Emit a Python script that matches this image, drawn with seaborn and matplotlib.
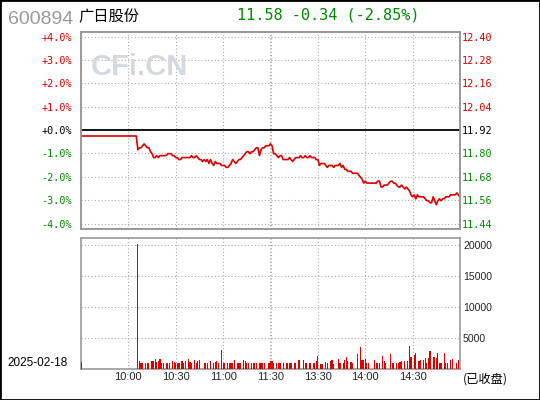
import numpy as np
import pandas as pd
import seaborn as sns
import matplotlib.pyplot as plt
from matplotlib.patches import Rectangle

# 分时数据 (9:30-11:30, 13:00-15:00, 每分钟一个点)
base_price = 11.92
price = [
    11.89, 11.89, 11.89, 11.89, 11.89, 11.89, 11.89, 11.89, 11.89, 11.89,
    11.89, 11.89, 11.89, 11.89, 11.89, 11.89, 11.89, 11.89, 11.89, 11.89,
    11.89, 11.89, 11.89, 11.89, 11.89, 11.89, 11.89, 11.89, 11.89, 11.89,
    11.89, 11.89, 11.89, 11.89, 11.89, 11.89, 11.82, 11.83, 11.83, 11.84,
    11.85, 11.84, 11.83, 11.83, 11.81, 11.80, 11.78, 11.78, 11.79, 11.78,
    11.79, 11.79, 11.79, 11.79, 11.79, 11.80, 11.80, 11.80, 11.79, 11.79,
    11.78, 11.78, 11.77, 11.77, 11.78, 11.78, 11.78, 11.78, 11.78, 11.78,
    11.79, 11.78, 11.78, 11.79, 11.78, 11.77, 11.77, 11.76, 11.77, 11.76,
    11.77, 11.75, 11.77, 11.75, 11.74, 11.76, 11.75, 11.75, 11.75, 11.74,
    11.74, 11.74, 11.73, 11.73, 11.74, 11.75, 11.77, 11.76, 11.75, 11.76,
    11.77, 11.77, 11.78, 11.79, 11.80, 11.81, 11.81, 11.80, 11.81, 11.81,
    11.82, 11.83, 11.83, 11.79, 11.82, 11.83, 11.83, 11.84, 11.84, 11.84,
    11.85, 11.84, 11.80, 11.80, 11.79, 11.78, 11.79, 11.79, 11.77, 11.77,
    11.77, 11.77, 11.78, 11.77, 11.76, 11.77, 11.78, 11.78, 11.78, 11.79,
    11.78, 11.78, 11.79, 11.78, 11.78, 11.79, 11.78, 11.78, 11.78, 11.77,
    11.77, 11.74, 11.75, 11.75, 11.75, 11.74, 11.73, 11.74, 11.74, 11.74,
    11.73, 11.74, 11.74, 11.74, 11.75, 11.73, 11.74, 11.72, 11.72, 11.71,
    11.71, 11.71, 11.70, 11.70, 11.70, 11.70, 11.69, 11.68, 11.67, 11.65,
    11.66, 11.65, 11.65, 11.65, 11.65, 11.65, 11.65, 11.65, 11.66, 11.66,
    11.63, 11.63, 11.64, 11.64, 11.64, 11.65, 11.66, 11.66, 11.65, 11.65,
    11.64, 11.63, 11.63, 11.64, 11.63, 11.62, 11.63, 11.62, 11.61, 11.59,
    11.58, 11.59, 11.57, 11.59, 11.58, 11.58, 11.58, 11.58, 11.57, 11.56,
    11.56, 11.55, 11.55, 11.58, 11.56, 11.54, 11.56, 11.57, 11.56, 11.57,
    11.57, 11.58, 11.58, 11.58, 11.59, 11.59, 11.59, 11.59, 11.60, 11.59,
    11.58,
]
volume = [
    1100, 0, 0, 0, 0, 0, 0, 0, 0, 0,
    0, 0, 0, 0, 0, 0, 0, 0, 0, 0,
    0, 0, 0, 0, 0, 0, 0, 0, 0, 0,
    0, 0, 0, 0, 0, 0, 20200, 1240, 915, 1020,
    0, 915, 1020, 915, 0, 1345, 1240, 1670, 1130, 1240,
    1560, 970, 1020, 0, 1020, 1020, 1020, 0, 1345, 1130,
    1020, 1020, 1020, 0, 1240, 915, 1240, 0, 1670, 1130,
    970, 0, 1400, 1020, 1240, 1400, 0, 0, 1020, 1020,
    915, 0, 1240, 0, 1020, 1130, 1240, 1020, 0, 3010,
    970, 915, 0, 1020, 1020, 1020, 1020, 1400, 0, 1020,
    915, 1020, 0, 1400, 1240, 1020, 915, 0, 1020, 1020,
    915, 1020, 0, 915, 915, 1020, 1020, 0, 0, 915,
    1240, 1240, 915, 0, 915, 915, 1020, 0, 915, 0,
    915, 915, 915, 915, 0, 915, 1020, 0, 1400, 0,
    0, 1400, 1020, 1020, 0, 915, 0, 915, 915, 1240,
    2040, 0, 860, 860, 0, 1130, 915, 0, 1290, 1400,
    860, 0, 0, 1670, 915, 0, 915, 1500, 1880, 1240,
    0, 1130, 915, 0, 0, 2370, 0, 3500, 1400, 1450,
    1670, 1020, 1020, 0, 0, 0, 1400, 915, 1020, 915,
    0, 2040, 1240, 1020, 0, 0, 2370, 1020, 1020, 0,
    1020, 1020, 1130, 1240, 0, 1240, 0, 1240, 3710, 1940,
    0, 2200, 2640, 0, 1240, 1400, 0, 1400, 1830, 1020,
    1830, 2850, 0, 2000, 2000, 1830, 2640, 1020, 1020, 0,
    2640, 1020, 1020, 0, 1400, 1670, 0, 0, 1020, 1400,
    0,
]

time_ticks = [30, 60, 90, 120, 150, 180, 210]
time_labels = ["10:00", "10:30", "11:00", "11:30", "13:30", "14:00", "14:30"]
pct_steps = [4, 3, 2, 1, 0, -1, -2, -3, -4]
pct_labels = ["+4.0%", "+3.0%", "+2.0%", "+1.0%", "+0.0%", "-1.0%", "-2.0%", "-3.0%", "-4.0%"]
price_labels = ["12.40", "12.28", "12.16", "12.04", "11.92", "11.80", "11.68", "11.56", "11.44"]
vol_ticks = [5000, 10000, 15000, 20000]
vol_labels = ["5000", "10000", "15000", "20000"]

df = pd.DataFrame({"minute": np.arange(len(price)), "price": price, "volume": volume})

sns.set_style("white")
plt.rcParams["font.family"] = ["DejaVu Sans", "Noto Sans CJK SC"]

RED = "#dd0000"
GREEN = "#008800"
GRID = "#aaaaaa"
FRAME = "#999999"

fig = plt.figure(figsize=(5.4, 4), dpi=100)
ax1 = fig.add_axes([81 / 540, 1 - 229 / 400, 379 / 540, 197 / 400])
ax2 = fig.add_axes([81 / 540, 1 - 369 / 400, 379 / 540, 131 / 400])

tick_prices = [base_price * (1 + p / 100) for p in pct_steps]
label_colors = [RED if p > 0 else ("black" if p == 0 else GREEN) for p in pct_steps]
vgrid = [30, 60, 90, 119.4, 120.6, 150, 180, 210]

# 上图：价格走势
for tp, p in zip(tick_prices, pct_steps):
    if p == 0:
        ax1.axhline(tp, color="black", lw=1.3, zorder=2)
    else:
        ax1.axhline(tp, color=GRID, lw=0.8, ls=(0, (1, 2)), zorder=1)
for t in vgrid:
    ax1.axvline(t, color=GRID, lw=0.8, ls=(0, (1, 2)), zorder=1)

ax1.text(91 / 540, 1 - 75 / 400, "CFi.CN", transform=fig.transFigure, fontsize=21,
         fontweight="bold", family="Liberation Sans", color="#d3d9de", zorder=2.5)

sns.lineplot(data=df, x="minute", y="price", ax=ax1, color=RED, lw=1.2, zorder=3)
ax1.set_xlim(0, 240)
ax1.set_ylim(11.416, 12.42)
ax1.set_xticks([])
ax1.set_xlabel("")
ax1.set_ylabel("")
ax1.set_yticks(tick_prices)
ax1.set_yticklabels(pct_labels, family="DejaVu Sans Mono", fontsize=7.3)
for lab, c in zip(ax1.get_yticklabels(), label_colors):
    lab.set_color(c)
ax1.tick_params(axis="y", length=0, pad=6.5)

ax1r = ax1.twinx()
ax1r.set_ylim(ax1.get_ylim())
ax1r.set_yticks(tick_prices)
ax1r.set_yticklabels(price_labels, family="DejaVu Sans Mono", fontsize=7.3)
for lab, c in zip(ax1r.get_yticklabels(), label_colors):
    lab.set_color(c)
ax1r.tick_params(axis="y", length=0, pad=1.5)

# 下图：成交量
sns.barplot(data=df, x="minute", y="volume", native_scale=True, color=RED,
            saturation=1, width=0.75, linewidth=0, edgecolor=RED,
            errorbar=None, ax=ax2, zorder=3)
for bar in ax2.patches:
    bar.set_edgecolor(RED)
    bar.set_facecolor(RED)
for v in vol_ticks:
    ax2.axhline(v, color=GRID, lw=0.8, ls=(0, (1, 2)), zorder=1)
for t in vgrid:
    ax2.axvline(t, color=GRID, lw=0.8, ls=(0, (1, 2)), zorder=1)
ax2.set_xlim(0, 240)
ax2.set_ylim(0, 21130)
ax2.set_xlabel("")
ax2.set_ylabel("")
ax2.set_xticks(time_ticks)
ax2.set_xticklabels(time_labels, family="Liberation Sans", fontsize=8)
ax2.yaxis.tick_right()
ax2.set_yticks(vol_ticks)
ax2.set_yticklabels(vol_labels, family="Liberation Sans", fontsize=7.6)
ax2.tick_params(axis="y", length=0, pad=2.2)
ax2.tick_params(axis="x", length=0, pad=2.5)

for ax in (ax1, ax1r, ax2):
    for sp in ax.spines.values():
        sp.set_color(FRAME)
        sp.set_linewidth(1.2)

# 标题和其他文字
fig.text(8 / 540, 1 - 24 / 400, "600894", color="#999999", fontsize=14,
         family="Liberation Sans", va="baseline")
fig.text(78 / 540, 1 - 21 / 400, "广日股份", color="black", fontsize=11,
         family=["Noto Sans CJK SC"], va="baseline")
fig.text(237 / 540, 1 - 19 / 400, "11.58 -0.34 (-2.85%)", color=GREEN, fontsize=11,
         family="DejaVu Sans Mono", va="baseline")
fig.text(7 / 540, 1 - 363 / 400, "2025-02-18", color="black", fontsize=8.5,
         family="Liberation Sans", va="center")
fig.text(463 / 540, 1 - 379 / 400, "(已收盘)", color="black", fontsize=8.8,
         family=["Noto Sans CJK SC"], va="center")

fig.patches.append(Rectangle((0, 0), 1, 1, transform=fig.transFigure, fill=False,
                             edgecolor="black", lw=2))

fig.savefig("out.png", dpi=100, facecolor="white")
